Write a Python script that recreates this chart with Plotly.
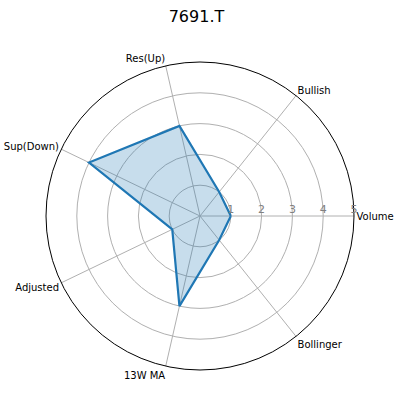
import plotly.graph_objects as go

# Données du radar
categories = ["Volume", "Bullish", "Res(Up)", "Sup(Down)", "Adjusted", "13W MA", "Bollinger"]
scores = [1, 1, 3, 4, 1, 3, 1]
radial_ticks = [1, 2, 3, 4, 5]

# Fermer le polygone
theta = categories + [categories[0]]
r = scores + [scores[0]]

fig = go.Figure()
fig.add_trace(go.Scatterpolar(
    r=r, theta=theta, mode="lines",
    fill="toself", fillcolor="rgba(31,119,180,0.25)",
    line=dict(color="#1f77b4", width=2.2),
    hoverinfo="r+theta",
))

fig.update_layout(
    width=401, height=401,
    showlegend=False,
    paper_bgcolor="white",
    font=dict(family="DejaVu Sans", size=11, color="black"),
    title=dict(text="7691.T", x=0.49, xanchor="center", y=0.96, yanchor="middle",
               font=dict(size=16, color="black")),
    margin=dict(l=46, r=47, t=62, b=31),
    polar=dict(
        bgcolor="white",
        angularaxis=dict(
            rotation=0, direction="counterclockwise",
            showline=True, linecolor="black", linewidth=1,
            gridcolor="#b0b0b0", gridwidth=1,
            ticks="",
            tickfont=dict(size=10, color="black"),
        ),
        radialaxis=dict(
            range=[0, 5], tickvals=radial_ticks, angle=0,
            side="counterclockwise",
            showline=False, ticks="",
            gridcolor="#b0b0b0", gridwidth=1,
            tickfont=dict(size=11, color="#808080"),
        ),
    ),
)

# pas de marge autour du body pour coller au cadre 401x401
fig.write_html("out.html", config={"displayModeBar": False},
               post_script="document.body.style.margin='0';document.body.style.overflow='hidden';")
